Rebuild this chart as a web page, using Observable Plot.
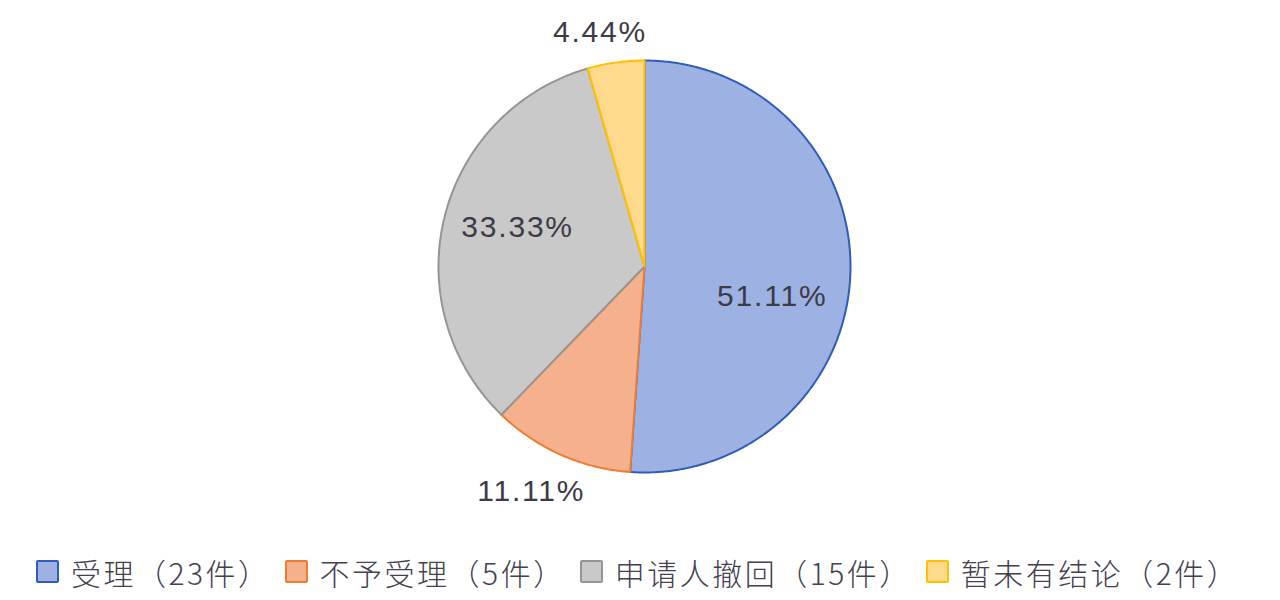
<!DOCTYPE html>
<html>
<head>
<meta charset="utf-8">
<script src="https://cdn.jsdelivr.net/npm/d3@7"></script>
<script src="https://cdn.jsdelivr.net/npm/@observablehq/plot@0.6"></script>
<style>
  html, body { margin: 0; padding: 0; background: #ffffff; }
  #wrap { width: 1280px; height: 600px; position: relative; overflow: hidden; font-family: "Noto Sans CJK SC", "Noto Sans", sans-serif; }
  #legend { position: absolute; left: 0; top: 540px; width: 1280px; height: 60px; display: flex; align-items: center; padding-left: 36px; box-sizing: border-box; padding-top: 3px; }
  .item { display: flex; align-items: center; margin-right: 14px; }
  .sw { width: 19px; height: 19px; border-width: 2px; border-style: solid; border-radius: 2px; margin-right: 12px; }
  .lab { font-size: 30px; line-height: 36px; color: #45404f; font-weight: 300; white-space: pre; letter-spacing: 2.5px; text-spacing-trim: space-all; }
  #chart svg text { letter-spacing: 1.8px; }
</style>
</head>
<body>
<div id="wrap">
  <div id="chart"></div>
  <div id="legend"></div>
</div>
<script>
// Data
const categories = ["受理", "不予受理", "申请人撤回", "暂未有结论"];
const counts = [23, 5, 15, 2];
const percentLabels = ["51.11%", "11.11%", "33.33%", "4.44%"];
const legendLabels = ["受理（23件）", "不予受理（5件）", "申请人撤回（15件）", "暂未有结论（2件）"];
const fillColors = ["#9db1e2", "#f5b18e", "#c9c9c9", "#ffd98c"];
const strokeColors = ["#2f5cba", "#ed7d31", "#959595", "#ffc000"];

// Layout constants
const W = 1280, H = 540;
const cx = 644, cy = 266, R = 206;

const total = d3.sum(counts);
const pie = d3.pie().sort(null).value(d => d.value)
  (categories.map((c, i) => ({cat: c, value: counts[i], label: percentLabels[i], i})));

// Arc outline points sampled from pie angles (angle 0 = 12 o'clock, clockwise)
const pts = [];
for (const a of pie) {
  const key = a.data.cat;
  pts.push({key, x: cx, y: cy});
  const n = Math.max(2, Math.ceil((a.endAngle - a.startAngle) / (Math.PI / 360)));
  for (let k = 0; k <= n; k++) {
    const t = a.startAngle + (a.endAngle - a.startAngle) * k / n;
    pts.push({key, x: cx + R * Math.sin(t), y: cy - R * Math.cos(t)});
  }
  pts.push({key, x: cx, y: cy});
}

// Label anchor at slice mid-angle: inside for big slices, outside for small ones
const labels = pie.map(a => {
  const mid = (a.startAngle + a.endAngle) / 2;
  const inside = a.data.value / total > 0.2;
  const f = inside ? 0.64 : (a.data.i === 1 ? 1.22 : 1.17);
  return {label: a.data.label, x: cx + R * f * Math.sin(mid), y: cy - R * f * Math.cos(mid), i: a.data.i};
});

// Excel-style placement nudges per label (pixels)
const nudges = [[-4, 25], [-11, -5], [1, -7], [-11, 5]];

const textOpts = {x: "x", y: "y", text: "label", fontSize: 30, fill: "#3d3a48",
  fontFamily: "Liberation Sans, Arial, sans-serif"};

const chart = Plot.plot({
  width: W, height: H,
  margin: 0,
  x: {domain: [0, W], range: [0, W], axis: null},
  y: {domain: [0, H], range: [0, H], axis: null},
  color: {domain: categories, range: fillColors},
  style: {background: "transparent", overflow: "visible"},
  marks: [
    Plot.line(pts, {x: "x", y: "y", z: "key", fill: "key",
      stroke: d => strokeColors[categories.indexOf(d.key)], strokeWidth: 2, curve: "linear", strokeLinejoin: "round"}),
    ...labels.map(l => Plot.text([l], {...textOpts, dx: nudges[l.i][0], dy: nudges[l.i][1]}))
  ]
});
document.getElementById("chart").appendChild(chart);

const legend = d3.select("#legend");
categories.forEach((c, i) => {
  const it = legend.append("div").attr("class", "item");
  it.append("div").attr("class", "sw").style("background", fillColors[i]).style("border-color", strokeColors[i]);
  it.append("span").attr("class", "lab").text(legendLabels[i]);
});
</script>
</body>
</html>
